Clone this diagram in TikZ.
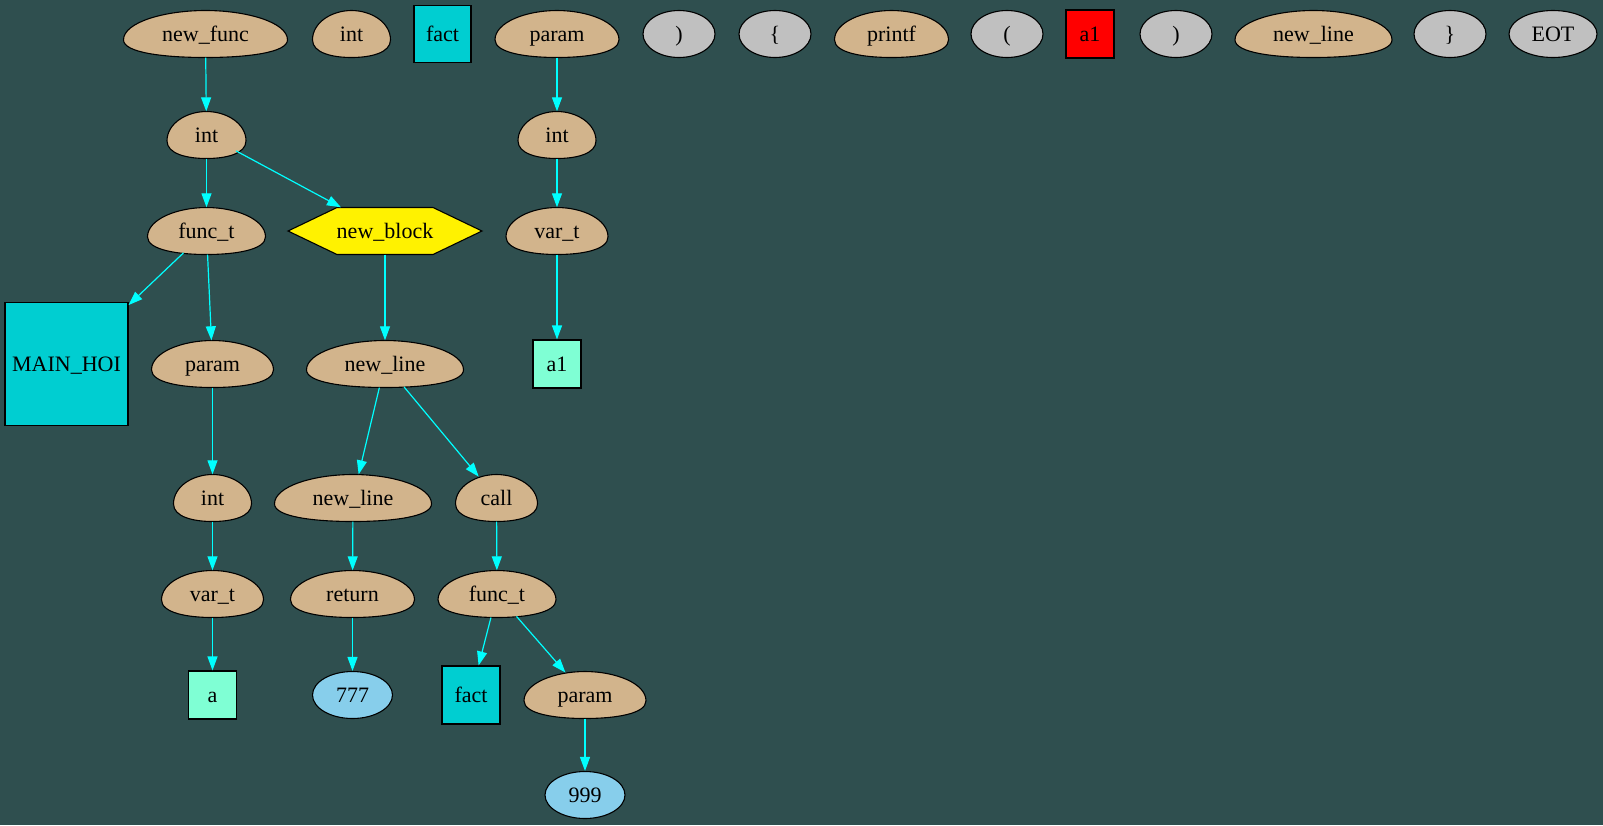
\documentclass[tikz,border=0pt]{standalone}
\usepackage{fontspec}
\setmainfont{Liberation Serif}
\usetikzlibrary{arrows.meta,shapes.geometric}
\definecolor{slatebg}{HTML}{2F4F4F}
\definecolor{tanfill}{HTML}{D2B48C}
\definecolor{tokgray}{HTML}{C0C0C0}
\definecolor{turq}{HTML}{00CED1}
\definecolor{aqua}{HTML}{7FFFD4}
\definecolor{sky}{HTML}{87CEEB}
\definecolor{edgecyan}{HTML}{00FFFF}
\def\eggh{23.5}
\tikzstyle{every node}=[font=\fontsize{22}{26}\selectfont,text height=16pt,text depth=2pt]
\tikzstyle{eggline}=[fill=tanfill,draw=black,line width=1.1pt]
\tikzstyle{eggspot}=[ellipse,inner sep=0pt,minimum height=47pt]
\tikzstyle{tok}=[ellipse,draw=black,line width=1.1pt,fill=tokgray,inner sep=0pt,minimum height=47pt,minimum width=72pt]
\tikzstyle{lit}=[tok,fill=sky,minimum width=80pt]
\tikzstyle{idbox}=[rectangle,draw=black,line width=1.1pt,inner sep=0pt]
\tikzstyle{edge}=[draw=edgecyan,line width=1.2pt,-{Triangle[length=14pt,width=10pt]}]
\def\eggnode#1#2#3#4{
  \filldraw[eggline,shift={(#2)}] (0,-\eggh) .. controls (0.5*#3,-\eggh) and (#3,-0.5*\eggh) .. (#3,0.25*\eggh)
    .. controls (#3,0.8*\eggh) and (0.5*#3,\eggh) .. (0,\eggh)
    .. controls (-0.5*#3,\eggh) and (-#3,0.8*\eggh) .. (-#3,0.25*\eggh)
    .. controls (-#3,-0.5*\eggh) and (-0.5*#3,-\eggh) .. cycle;
  \node[eggspot,minimum width=2*#3] (#1) at (#2) {#4};
}

\begin{document}
\begin{tikzpicture}[x=1pt,y=-1pt]

\fill[slatebg] (0,0) rectangle (1603,825);
\useasboundingbox (0,0) rectangle (1603,825);

\begin{scope}
  \eggnode{newfunc}{205.5,34}{82}{new\_func}
  \eggnode{intdecl}{351.5,34}{39}{int}
  \node[idbox,fill=turq,minimum size=57pt] (factdecl) at (442.5,34) {fact};
  \eggnode{paramdecl}{557,34}{62}{param}
  \foreach \nm/\x/\t in {rpara/679/),lbrace/775/\{,lparb/1007/(,rparb/1176/),rbrace/1450/\}}
    \node[tok] (\nm) at (\x,34) {\t};
  \eggnode{printf}{891.5,34}{57}{printf}
  \node[idbox,fill=red,minimum size=48pt] (argred) at (1090,34) {a1};
  \eggnode{newlinetop}{1313.5,34}{78.5}{new\_line}
  \node[tok,minimum width=88pt] (eot) at (1553,34) {EOT};
\end{scope}

\begin{scope}
  \eggnode{intret}{206.5,135}{39.5}{int}
  \eggnode{functmain}{206.5,231}{59}{func\_t}
  \filldraw[fill=yellow,draw=black,line width=1.1pt,shift={(385,231)}]
    (-97,0) -- (-48,-23.5) -- (48,-23.5) -- (97,0) -- (48,23.5) -- (-48,23.5) -- cycle;
  \node[rectangle,minimum width=194pt,minimum height=47pt,inner sep=0pt] (newblock) at (385,231) {new\_block};
  \node[idbox,fill=turq,minimum size=123pt] (mainhoi) at (66.5,364) {MAIN\_HOI};
  \eggnode{parammain}{212.5,364}{61}{param}
  \eggnode{intparam}{212.5,498}{39}{int}
  \eggnode{varmain}{212.5,594}{51}{var\_t}
  \node[idbox,fill=aqua,minimum size=48pt] (varid) at (212.5,695) {a};
  \eggnode{linea}{385,364}{78.5}{new\_line}
  \eggnode{lineb}{353,498}{78.5}{new\_line}
  \eggnode{call}{496.5,498}{41}{call}
  \eggnode{return}{352.5,594}{62}{return}
  \eggnode{functcall}{497,594}{59}{func\_t}
  \node[lit] (retval) at (352.5,695) {777};
  \node[idbox,fill=turq,minimum size=58pt] (factcall) at (471,695) {fact};
  \eggnode{paramcall}{585,695}{61}{param}
  \node[lit] (argval) at (585,795) {999};
  \eggnode{intarg}{557,135}{39}{int}
  \eggnode{vararg}{557,231}{51}{var\_t}
  \node[idbox,fill=aqua,minimum size=48pt] (argid) at (557,364) {a1};
\end{scope}

\foreach \a/\b in {newfunc/intret,intret/functmain,intret/newblock,functmain/mainhoi,
    functmain/parammain,parammain/intparam,intparam/varmain,varmain/varid,
    newblock/linea,linea/lineb,linea/call,lineb/return,return/retval,
    call/functcall,functcall/factcall,functcall/paramcall,paramcall/argval,
    paramdecl/intarg,intarg/vararg,vararg/argid}
  \draw[edge] (\a) -- (\b);

\end{tikzpicture}
\end{document}
